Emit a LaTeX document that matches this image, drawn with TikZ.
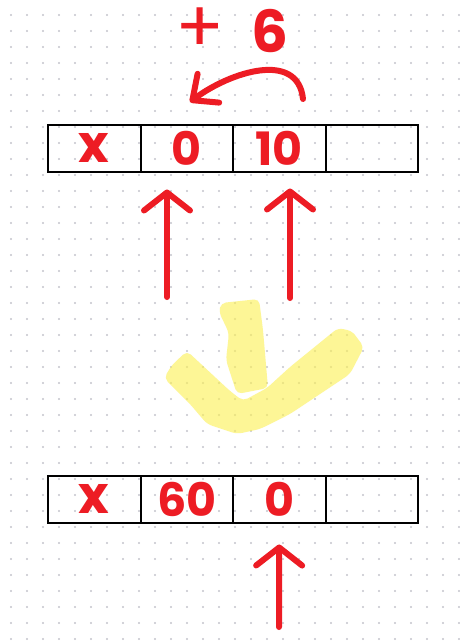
\documentclass[tikz,border=0pt]{standalone}
\usepackage{fontspec}
\newfontfamily\hand{Poppins}
\usetikzlibrary{positioning,arrows.meta}
\definecolor{penred}{RGB}{237,28,36}
\definecolor{marker}{RGB}{252,240,80}
\definecolor{dotgray}{RGB}{196,196,204}
\begin{document}
\begin{tikzpicture}[
        x=1pt, y=-1pt,
        cell/.style={draw, line width=2pt, minimum width=92.5pt, minimum height=46.5pt,
            inner sep=0pt, outer sep=0pt, text=penred, font=\hand\bfseries\fontsize{46}{46}\selectfont},
        cross/.style={font=\hand\bfseries\fontsize{52}{52}\selectfont},
        pen/.style={draw=penred, line width=6pt, line cap=round, line join=round},
        tip/.style={-{Straight Barb[length=18pt, width=46pt, line cap=round, line join=round]}},
    ]
    \fill[white] (0,0) rectangle (459,641);
    \useasboundingbox (0,0) rectangle (459,641);
    \foreach \i in {0,...,28}
        \foreach \j in {0,...,39}
            \fill[dotgray] (11+16*\i, 15+16*\j) circle (1.1pt);

    \fill[marker, opacity=0.6, rounded corners=5pt]
        (221,303) -- (259,299) -- (263,330) -- (268,388) -- (237,394) -- (226,360) -- (229,333) -- (219,312) -- cycle
        (187,351) -- (230,391) -- (243,401) -- (267,388) -- (290,367) -- (338,328) -- (352,331)
            -- (364,347) -- (350,374) -- (290,414) -- (260,429) -- (237,434) -- (207,424)
            -- (190,404) -- (164,378) -- (172,365) -- cycle;

    \node[cell, cross] (t1) at (94.25,148.25) {x};
    \node[cell, right=0pt of t1] (t2) {0};
    \node[cell, right=0pt of t2] (t3) {10};
    \node[cell, right=0pt of t3] (t4) {};

    \node[cell, cross] (b1) at (94.25,499.25) {x};
    \node[cell, right=0pt of b1] (b2) {60};
    \node[cell, right=0pt of b2] (b3) {0};
    \node[cell, right=0pt of b3] (b4) {};

    \node[text=penred, font=\hand\bfseries\fontsize{58}{58}\selectfont] (shift) at (232,30)
        {{\mdseries\fontsize{72}{72}\selectfont +} \hspace{14pt}6};

    \coordinate (from) at (303,99);
    \coordinate (to) at (190,102);
    \draw[pen, -{Straight Barb[length=20pt, width=36pt, line cap=round, line join=round]}]
        (from) .. controls (298,50) and (230,72) .. (to);

    \coordinate (lo) at (167,297);
    \coordinate (ro) at (290,298);
    \coordinate (bo) at (279,627);
    \draw[pen, tip, shorten >=18pt] (lo) -- (lo |- t2.south);
    \draw[pen, tip, shorten >=17pt] (ro) -- (ro |- t3.south);
    \draw[pen, tip, shorten >=22pt] (bo) -- (b3.south);

\end{tikzpicture}
\end{document}
